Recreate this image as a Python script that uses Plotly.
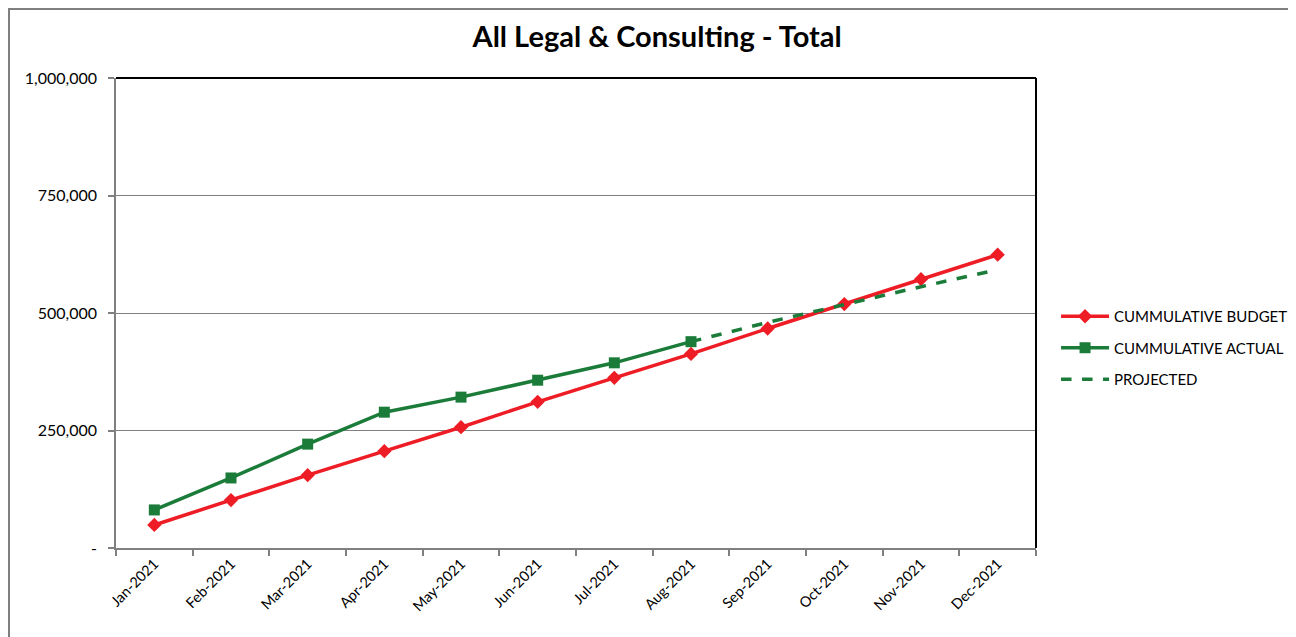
import plotly.graph_objects as go

months = ["Jan-2021", "Feb-2021", "Mar-2021", "Apr-2021", "May-2021", "Jun-2021",
          "Jul-2021", "Aug-2021", "Sep-2021", "Oct-2021", "Nov-2021", "Dec-2021"]
budget = [49000, 102000, 155000, 206000, 257000, 311000, 362000, 413000, 467000, 519000, 572000, 624000]
actual_months = months[:8]
actual = [81000, 149000, 221000, 289000, 321000, 357000, 394000, 439000]
projected_months = months[7:]
projected = [439000, 480000, 518000, 556000, 592000]

y_tickvals = [0, 250000, 500000, 750000, 1000000]
y_ticktext = ["-", "250,000", "500,000", "750,000", "1,000,000"]

RED = "#EE1C25"
GREEN = "#1B7C3A"
FONT = "Lato"

fig = go.Figure()
fig.add_trace(go.Scatter(
    x=months, y=budget, mode="lines+markers", name="CUMMULATIVE BUDGET",
    line=dict(color=RED, width=3.5),
    marker=dict(symbol="diamond", size=11, color=RED),
    legendgroup="a"))
fig.add_trace(go.Scatter(
    x=actual_months, y=actual, mode="lines+markers", name="CUMMULATIVE ACTUAL",
    line=dict(color=GREEN, width=3.5),
    marker=dict(symbol="square", size=11, color=GREEN),
    legendgroup="b"))
fig.add_trace(go.Scatter(
    x=projected_months, y=projected, mode="lines", name="PROJECTED",
    line=dict(color=GREEN, width=3.5, dash="dash"),
    legendgroup="c"))

fig.update_layout(
    width=1288, height=629,
    margin=dict(l=108, r=260, t=70, b=89, autoexpand=False),
    paper_bgcolor="white", plot_bgcolor="white",
    font=dict(family=FONT, size=14, color="black"),
    title=dict(text="<b>All Legal & Consulting - Total</b>", xref="container", x=0.504,
               xanchor="center", yref="container", y=0.954, yanchor="middle",
               font=dict(family=FONT, size=29, color="black")),
    showlegend=True,
    legend=dict(xref="container", x=0.8137, xanchor="left",
                yref="container", y=0.5358, yanchor="top",
                font=dict(family=FONT, size=15, color="black"),
                tracegroupgap=9, traceorder="grouped", itemwidth=48,
                bgcolor="rgba(0,0,0,0)"),
    xaxis=dict(type="category", categoryorder="array", categoryarray=months,
               range=[-0.5, 11.5], tickson="boundaries", ticks="outside", ticklen=6,
               tickcolor="#808080", tickwidth=1.5, showline=True, linecolor="#808080",
               linewidth=1.5, showgrid=False, tickangle=-45,
               tickfont=dict(family=FONT, size=14.5, color="black"), zeroline=False),
    yaxis=dict(range=[0, 1000000], tickvals=y_tickvals, ticktext=y_ticktext,
               ticks="outside", ticklen=6, tickcolor="#808080", tickwidth=1.5,
               showline=True, linecolor="#808080", linewidth=1.5,
               showgrid=True, gridcolor="#808080", gridwidth=1.2, zeroline=False,
               ticklabelstandoff=8,
               tickfont=dict(family=FONT, size=16, color="black")),
    shapes=[
        dict(type="line", xref="paper", yref="paper", x0=0, x1=1, y0=1, y1=1,
             line=dict(color="black", width=2)),
        dict(type="line", xref="paper", yref="paper", x0=1, x1=1, y0=0, y1=1,
             line=dict(color="black", width=2)),
        dict(type="rect", xref="paper", yref="paper",
             x0=-0.1163, x1=1.35, y0=-0.3, y1=1.1468,
             line=dict(color="#7F7F7F", width=2), layer="below"),
    ],
)

fig.write_html("out.html")
